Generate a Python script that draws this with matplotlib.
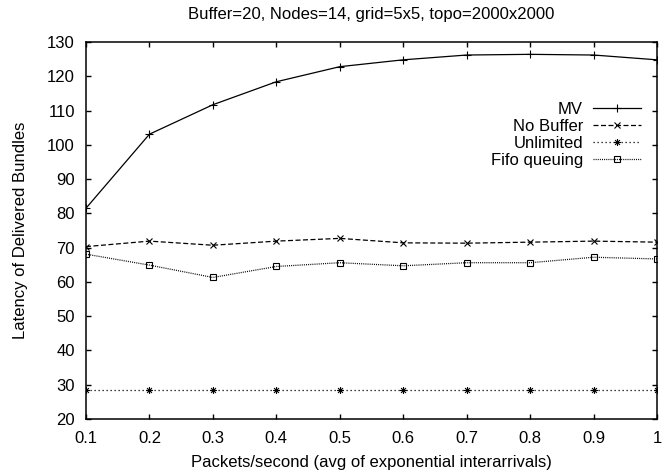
import matplotlib
matplotlib.use("Agg")
import matplotlib.pyplot as plt
from matplotlib.path import Path
from matplotlib.ticker import FuncFormatter

plt.rcParams['font.family'] = ['Liberation Sans', 'DejaVu Sans']

# data
rates = [0.1, 0.2, 0.3, 0.4, 0.5, 0.6, 0.7, 0.8, 0.9, 1.0]
mv = [81.5, 103.1, 111.7, 118.4, 122.8, 124.8, 126.2, 126.4, 126.2, 124.8]
no_buffer = [70.3, 71.9, 70.7, 71.9, 72.7, 71.4, 71.3, 71.6, 71.9, 71.6]
unlimited = [28.5, 28.5, 28.5, 28.5, 28.5, 28.5, 28.5, 28.5, 28.5, 28.5]
fifo = [68.1, 64.9, 61.3, 64.5, 65.6, 64.7, 65.6, 65.6, 67.2, 66.7]

title = "Buffer=20, Nodes=14, grid=5x5, topo=2000x2000"
xlabel = "Packets/second (avg of exponential interarrivals)"
ylabel = "Latency of Delivered Bundles"

# gnuplot style star: plus and cross on top of each other
star = Path([(-1, 0), (1, 0), (0, -1), (0, 1), (-0.7, -0.7), (0.7, 0.7), (-0.7, 0.7), (0.7, -0.7)],
            [Path.MOVETO, Path.LINETO] * 4)

fig = plt.figure(figsize=(6.62, 4.75), dpi=100)
ax = fig.add_axes([86 / 662, 56 / 475, 571 / 662, 377 / 475])

lw = 0.9
ax.plot(rates, mv, color='black', lw=lw, marker='+', ms=5.5, mew=0.8, label='MV')
ax.plot(rates, no_buffer, color='black', lw=lw, dashes=(4, 2), marker='x', ms=4.5, mew=0.8, label='No Buffer')
ax.plot(rates, unlimited, color='black', lw=lw, dashes=(1, 2.2), marker=star, ms=5, mew=0.8,
        mfc='none', label='Unlimited')
ax.plot(rates, fifo, color='black', lw=lw, dashes=(0.8, 0.9), marker='s', ms=4.5, mew=0.8, mfc='none',
        label='Fifo queuing')

ax.set_xlim(0.1, 1.0)
ax.set_ylim(20, 130)
ax.set_xticks(rates)
ax.set_yticks(range(20, 131, 10))
ax.xaxis.set_major_formatter(FuncFormatter(lambda v, p: f"{v:g}"))
ax.tick_params(direction='in', length=3.6, width=1, top=True, right=True, labelsize=12)
ax.tick_params(axis='y', pad=8)
ax.tick_params(axis='x', pad=8.5)
for s in ax.spines.values():
    s.set_linewidth(1.1)

ax.set_title(title, fontsize=12, pad=16.3)
ax.set_xlabel(xlabel, fontsize=12, labelpad=6.5)
ax.set_ylabel(ylabel, fontsize=12, labelpad=14)

ax.legend(loc='upper right', bbox_to_anchor=(0.972, 0.841), frameon=False, markerfirst=False,
          fontsize=12, handlelength=2.88, handletextpad=0.6, labelspacing=0.12, borderpad=0,
          borderaxespad=0)

fig.savefig("out.png", dpi=100)
